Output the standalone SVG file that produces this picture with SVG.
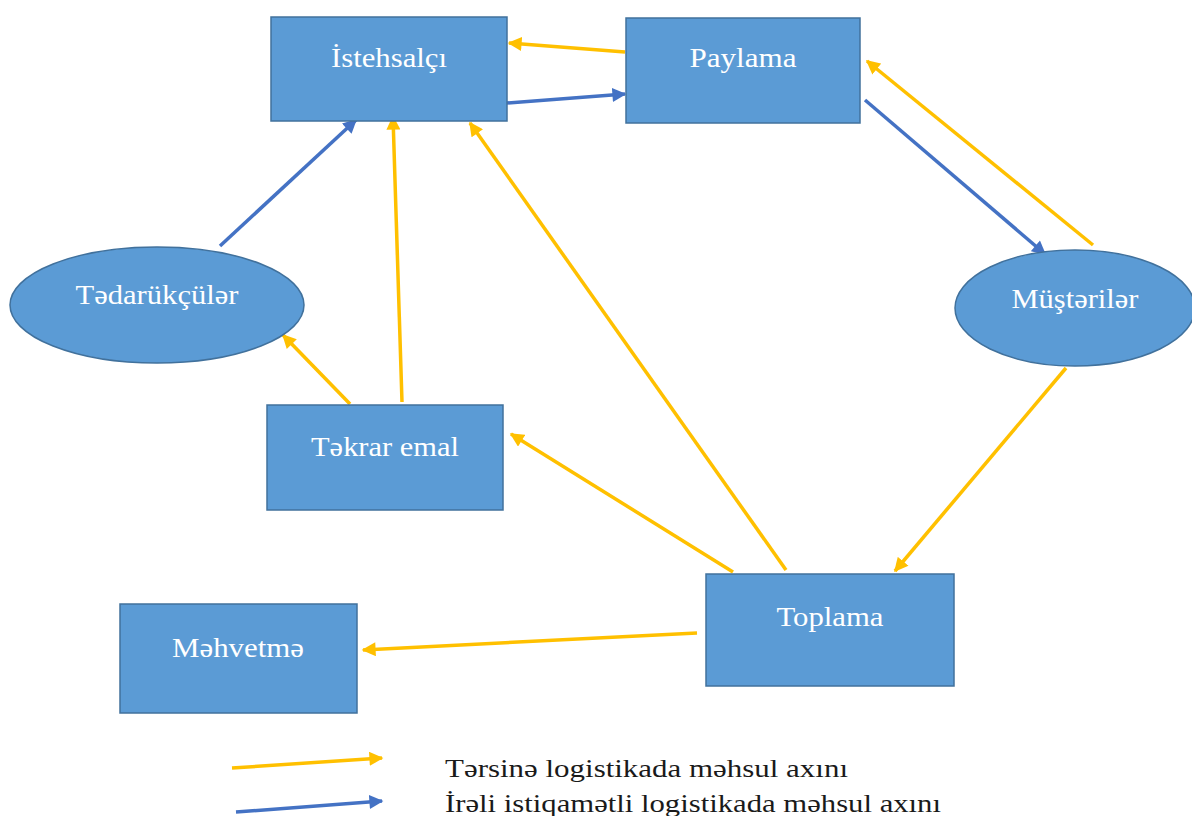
<svg xmlns="http://www.w3.org/2000/svg" width="1192" height="816" viewBox="0 0 1192 816">
<defs>
<marker id="ay" viewBox="0 0 10 10" refX="9" refY="5" markerWidth="4.2" markerHeight="4" orient="auto" markerUnits="strokeWidth"><path d="M0,0 L10,5 L0,10 z" fill="#ffc000"/></marker>
<marker id="ab" viewBox="0 0 10 10" refX="9" refY="5" markerWidth="4.2" markerHeight="4" orient="auto" markerUnits="strokeWidth"><path d="M0,0 L10,5 L0,10 z" fill="#4472c4"/></marker>
<style>
.n{fill:#5b9bd5;stroke:#41719c;stroke-width:1.5}
.t{font-family:'Liberation Serif',Tinos,'Nimbus Roman','Times New Roman',Times,'Noto Serif','DejaVu Serif',serif;font-size:27px;fill:#ffffff;text-anchor:middle}
.y{stroke:#ffc000;stroke-width:3.5;fill:none;marker-end:url(#ay)}
.b{stroke:#4472c4;stroke-width:3.5;fill:none;marker-end:url(#ab)}
.l{font-family:'Liberation Serif',Tinos,'Nimbus Roman','Times New Roman',Times,'Noto Serif','DejaVu Serif',serif;font-size:26px;fill:#1a1a1a}
</style>
</defs>
<rect width="1192" height="816" fill="#ffffff"/>
<g id="connectors">
<line class="y" x1="625" y1="52" x2="509" y2="43"/>
<line class="y" x1="1093" y1="245" x2="867" y2="61"/>
<line class="y" x1="1066" y1="368" x2="895" y2="571"/>
<line class="y" x1="733" y1="572" x2="511" y2="434"/>
<line class="y" x1="786" y1="570" x2="470" y2="123"/>
<line class="y" x1="402" y1="402" x2="393" y2="117"/>
<line class="y" x1="350" y1="404" x2="283" y2="335"/>
<line class="y" x1="697" y1="633" x2="363" y2="650"/>
<line class="b" x1="507" y1="103" x2="625" y2="94"/>
<line class="b" x1="220" y1="246" x2="356" y2="120"/>
<line class="b" x1="865" y1="100" x2="1045" y2="254"/>
</g>
<g id="istehsalci"><rect class="n" x="271" y="17" width="236" height="104"/><text class="t" x="389" y="67" textLength="116" lengthAdjust="spacingAndGlyphs">İstehsalçı</text></g>
<g id="paylama"><rect class="n" x="626" y="18" width="234" height="105"/><text class="t" x="743" y="67" textLength="107" lengthAdjust="spacingAndGlyphs">Paylama</text></g>
<g id="tedarukculer"><ellipse class="n" cx="157" cy="305" rx="147" ry="58"/><text class="t" x="157" y="304" textLength="163" lengthAdjust="spacingAndGlyphs">Tədarükçülər</text></g>
<g id="musteriler"><ellipse class="n" cx="1075" cy="308" rx="120" ry="58"/><text class="t" x="1075" y="308" textLength="127" lengthAdjust="spacingAndGlyphs">Müştərilər</text></g>
<g id="tekrar-emal"><rect class="n" x="267" y="405" width="236" height="105"/><text class="t" x="385" y="456" textLength="148" lengthAdjust="spacingAndGlyphs">Təkrar emal</text></g>
<g id="toplama"><rect class="n" x="706" y="574" width="248" height="112"/><text class="t" x="830" y="626" textLength="107" lengthAdjust="spacingAndGlyphs">Toplama</text></g>
<g id="mehvetme"><rect class="n" x="120" y="604" width="237" height="109"/><text class="t" x="238" y="657" textLength="132" lengthAdjust="spacingAndGlyphs">Məhvetmə</text></g>
<g id="legend">
<line class="y" x1="232" y1="768" x2="382" y2="758"/>
<line class="b" x1="236" y1="812" x2="382" y2="801"/>
<text class="l" x="445" y="777" textLength="403" lengthAdjust="spacingAndGlyphs">Tərsinə logistikada məhsul axını</text>
<text class="l" x="445" y="812" textLength="496" lengthAdjust="spacingAndGlyphs">İrəli istiqamətli logistikada məhsul axını</text>
</g>
</svg>
